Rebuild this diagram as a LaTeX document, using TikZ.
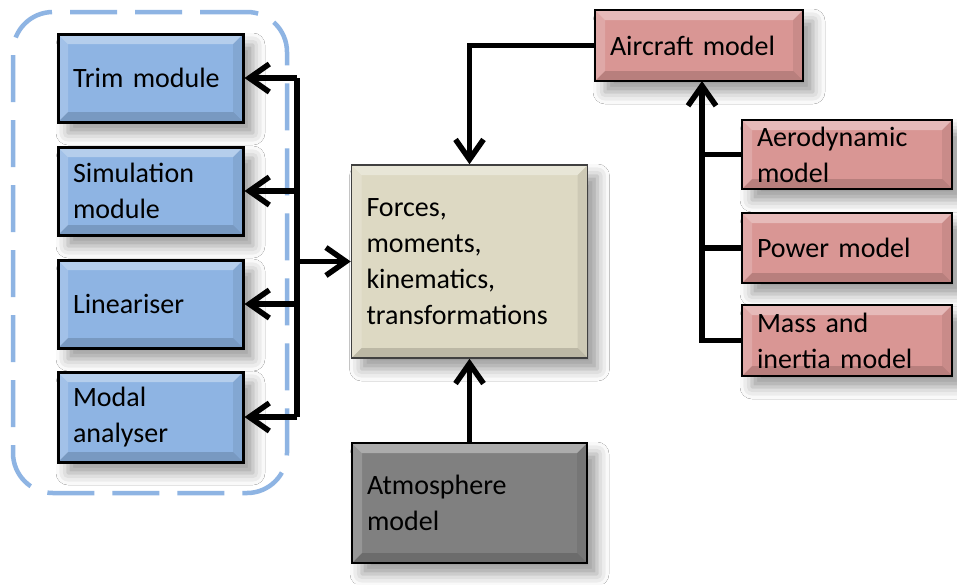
\documentclass[tikz,border=0pt]{standalone}
\usepackage{fontspec}
\setmainfont{Carlito}
\usetikzlibrary{arrows.meta,shadows.blur}
\definecolor{boxblue}{HTML}{8EB4E3}
\definecolor{boxpink}{HTML}{D99694}
\definecolor{boxcream}{HTML}{DDD9C3}
\definecolor{boxgray}{HTML}{808080}
\definecolor{dashblue}{HTML}{8EB4E3}
\tikzset{
  bevel/.style={path picture={
    \coordinate (bvnw) at (path picture bounding box.north west);
    \coordinate (bvne) at (path picture bounding box.north east);
    \coordinate (bvsw) at (path picture bounding box.south west);
    \coordinate (bvse) at (path picture bounding box.south east);
    \fill[white,opacity=.35] (bvnw) -- (bvne) -- ([shift={(-10pt,-10pt)}]bvne) -- ([shift={(10pt,-10pt)}]bvnw) -- cycle;
    \fill[white,opacity=.18] (bvnw) -- ([shift={(10pt,-10pt)}]bvnw) -- ([shift={(10pt,10pt)}]bvsw) -- (bvsw) -- cycle;
    \fill[black,opacity=.15] (bvsw) -- ([shift={(10pt,10pt)}]bvsw) -- ([shift={(-10pt,10pt)}]bvse) -- (bvse) -- cycle;
    \fill[black,opacity=.07] (bvne) -- ([shift={(-10pt,-10pt)}]bvne) -- ([shift={(-10pt,10pt)}]bvse) -- (bvse) -- cycle;
  }},
  modbox/.style={draw=black, bevel, inner xsep=15pt, inner ysep=0pt, align=left,
    font=\fontsize{28}{36}\selectfont,
    blur shadow={shadow xshift=10pt, shadow yshift=-11pt, shadow blur radius=12pt, shadow opacity=40}},
  bluebox/.style={modbox, fill=boxblue, line width=3pt, text width=155pt, minimum height=88pt},
  pinkbox/.style={modbox, fill=boxpink, line width=2pt, text width=180pt},
  conn/.style={line width=5.5pt, line join=miter},
  arr/.style={conn, -{Straight Barb[length=20pt,width=28pt,line width=5.5pt]}},
}
\begin{document}
\begin{tikzpicture}[x=1pt,y=-1pt]
\useasboundingbox (0,0) rectangle (957,584);
\fill[white] (0,0) rectangle (957,584);

\node[draw=dashblue, line width=4.5pt, dash pattern=on 47pt off 18pt, rounded corners=40pt,
  minimum width=274pt, minimum height=481pt, inner sep=0pt] (grp) at (150,252.5) {};

\node[bluebox] (trim) at (150.5,78) {Trim module};
\node[bluebox] (sim) at (150.5,191) {Simulation\\module};
\node[bluebox] (lin) at (150.5,304) {Lineariser};
\node[bluebox, minimum height=90pt] (modal) at (150.5,417) {Modal\\analyser};

\node[modbox, fill=boxcream, draw=black!75, line width=1.5pt, text width=206pt, minimum height=193pt] (forces) at (469.5,261.5) {Forces,\\moments,\\kinematics,\\transformations};
\node[modbox, fill=boxgray, line width=2pt, text width=205pt, minimum height=120pt] (atm) at (469.5,503) {Atmosphere\\model};

\node[pinkbox, text width=178pt, minimum height=71pt] (air) at (699,45.5) {Aircraft model};
\node[pinkbox, minimum height=69pt] (aero) at (847,154.5) {Aerodynamic\\model};
\node[pinkbox, minimum height=70pt] (pow) at (847,248) {Power model};
\node[pinkbox, minimum height=71pt] (mass) at (847,340.5) {Mass and\\inertia model};

% left bus
\coordinate (bt) at (297,78);
\coordinate (bs) at (297,191);
\coordinate (bl) at (297,304);
\coordinate (bm) at (297,417);
\coordinate (bf) at (297,261.5);
\draw[conn] (bt) -- (bm);
\draw[arr] (bt) -- (trim.east);
\draw[arr] (bs) -- (sim.east);
\draw[arr] (bl) -- (lin.east);
\draw[arr] (bm) -- (modal.east);
\draw[arr] (bf) -- (forces.west);

% aircraft to forces
\draw[arr] (air.west) -| (forces.north);
% atmosphere to forces
\draw[arr] (atm.north) -- (forces.south);

% right bus
\coordinate (rb) at (702,81);
\draw[arr] (mass.west) -| (rb);
\draw[conn] (aero.west) -- (aero.west -| rb);
\draw[conn] (pow.west) -- (pow.west -| rb);
\end{tikzpicture}
\end{document}
